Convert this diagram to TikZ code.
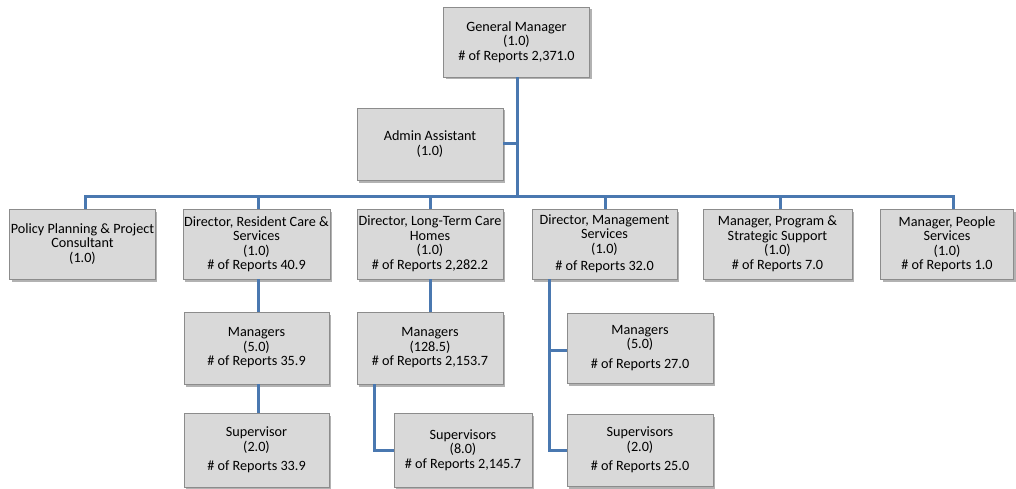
\documentclass[tikz,border=0pt]{standalone}
\usepackage{fontspec}
\setmainfont{Carlito}
\usetikzlibrary{shadows}
\definecolor{boxfill}{HTML}{D9D9D9}
\definecolor{boxline}{HTML}{8C8C8C}
\definecolor{conn}{HTML}{4A78B0}
\begin{document}
\begin{tikzpicture}[x=1pt,y=-1pt,
  orgbox/.style={draw=boxline, line width=0.8pt, fill=boxfill, align=center,
    inner sep=1pt, minimum height=70pt, minimum width=146pt,
    font=\fontsize{14.2pt}{14.5pt}\selectfont,
    drop shadow={shadow xshift=2pt, shadow yshift=-2.5pt, fill=black, opacity=0.3}},
  link/.style={draw=conn, line width=3pt}]
\useasboundingbox (0,0) rectangle (1016,489);
% top
\node[orgbox] (gm) at (516.5,42) {General Manager\\(1.0)\\\# of Reports 2,371.0};
\node[orgbox, minimum height=72pt] (admin) at (430,144) {Admin Assistant\\(1.0)};
% row 2
\node[orgbox, minimum width=145pt] (policy) at (82.5,244) {Policy Planning \& Project\\Consultant\\(1.0)};
\node[orgbox, minimum width=147pt] (rc) at (256.5,244) {Director, Resident Care \&\\Services\\(1.0)\\\# of Reports 40.9};
\node[orgbox] (ltc) at (430,244) {Director, Long-Term Care\\Homes\\(1.0)\\\# of Reports 2,282.2};
\node[orgbox, minimum width=145pt] (ms) at (604.5,244) {Director, Management\\Services\\(1.0)\\[3pt]\# of Reports 32.0};
\node[orgbox, minimum width=149pt] (prog) at (777.5,244) {Manager, Program \&\\Strategic Support\\(1.0)\\\# of Reports 7.0};
\node[orgbox, minimum width=133pt] (people) at (947,244) {Manager, People\\Services\\(1.0)\\\# of Reports 1.0};
% row 3
\node[orgbox, minimum width=145pt, minimum height=72pt] (rcm) at (256.5,348) {Managers\\(5.0)\\\# of Reports 35.9};
\node[orgbox, minimum height=72pt] (ltcm) at (430,348) {Managers\\(128.5)\\\# of Reports 2,153.7};
\node[orgbox, minimum height=70pt] (msm) at (640,348) {Managers\\(5.0)\\[5pt]\# of Reports 27.0};
% row 4
\node[orgbox, minimum width=145pt, minimum height=74pt] (rcs) at (256.5,450) {Supervisor\\(2.0)\\[5pt]\# of Reports 33.9};
\node[orgbox, minimum width=138pt, minimum height=74pt] (ltcs) at (463,450) {Supervisors\\(8.0)\\\# of Reports 2,145.7};
\node[orgbox, minimum height=72pt] (mss) at (640,450) {Supervisors\\(2.0)\\[5pt]\# of Reports 25.0};
% connectors
\coordinate (busL) at (85,196);
\coordinate (busR) at (953,196);
\coordinate (trunk) at (517,196);
\draw[link] (gm.south -| trunk) -- (trunk);
\draw[link] (admin.east) -- (admin.east -| trunk);
\draw[link, line cap=rect] (busL) -- (busR);
\draw[link] (busL) -- (busL |- policy.north);
\draw[link] (258,196) -- (258,209);
\draw[link] (ltc.north |- busL) -- (ltc.north);
\draw[link] (605,196) -- (605,209);
\draw[link] (780,196) -- (780,209);
\draw[link] (busR) -- (busR |- people.north);
\draw[link] (258,279) -- (258,312);
\draw[link] (258,384) -- (258,413);
\draw[link] (ltc.south) -- (ltcm.north);
\draw[link] (374,384) |- (ltcs.west);
\draw[link] (549,279) |- (mss.west);
\draw[link] (549,350) -- (msm.west |- 0,350);
\end{tikzpicture}
\end{document}
